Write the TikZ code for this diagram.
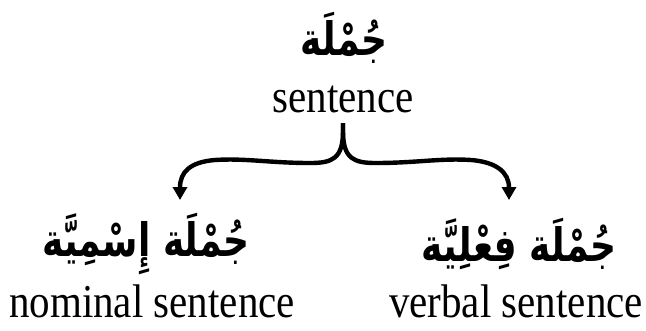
\documentclass[tikz,border=0pt]{standalone}
\usepackage{fontspec}
\setmainfont{Liberation Serif}
\newfontfamily\arabicfont[Script=Arabic]{DejaVu Sans Bold}
\TeXXeTstate=1
\usetikzlibrary{arrows.meta}
\newcommand\artext[1]{\scalebox{1}[1.28]{\arabicfont\fontsize{36}{42}\selectfont\beginR #1\endR}}
\newcommand\entext[1]{\scalebox{1}[1.15]{#1}}
\begin{document}
\begin{tikzpicture}[x=1pt,y=-1pt,
  ar/.style={inner sep=0pt},
  en/.style={font=\fontsize{41}{46}\selectfont, inner sep=0pt, anchor=base},
  branch/.style={line width=4.4pt, -{Triangle[length=13pt,width=14pt]}}]
\useasboundingbox (0,0) rectangle (646,330);
\node[ar] (top) at (344,38) {\artext{جُمْلَة}};
\node[en] (sent) at (343,112) {\entext{sentence}};
\node[ar] (left) at (146,244) {\artext{جُمْلَة إِسْمِيَّة}};
\node[en] (nom) at (152,317) {\entext{nominal sentence}};
\node[ar] (right) at (519,244) {\artext{جُمْلَة فِعْلِيَّة}};
\node[en] (verb) at (516,317) {\entext{verbal sentence}};
\coordinate (b) at (343,123);
\coordinate (lt) at (180,200);
\coordinate (rt) at (509,200);
\draw[branch] (b) -- ++(0,8) .. controls +(0,28) and +(22,0) .. (310,163)
  .. controls (270,163) and (245,158) .. (215,160)
  .. controls (190,162) and (180,172) .. (lt);
\draw[branch] (b) -- ++(0,8) .. controls +(0,28) and +(-22,0) .. (376,163)
  .. controls (416,163) and (441,158) .. (471,160)
  .. controls (496,162) and (509,172) .. (rt);
\end{tikzpicture}
\end{document}
